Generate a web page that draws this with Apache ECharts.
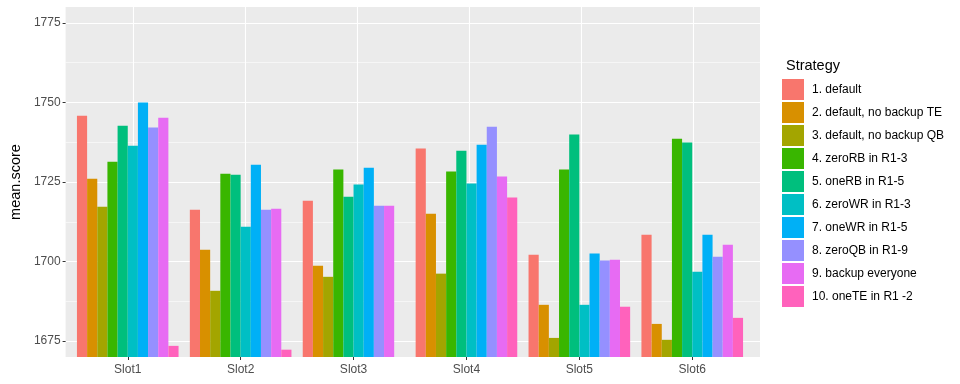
<!DOCTYPE html>
<html>
<head>
<meta charset="utf-8">
<script src="https://cdn.jsdelivr.net/npm/echarts@6/dist/echarts.min.js"></script>
<style>html,body{margin:0;padding:0;background:#fff}#c{width:960px;height:384px}</style>
</head>
<body>
<div id="c"></div>
<script>
const categories = ['Slot1','Slot2','Slot3','Slot4','Slot5','Slot6'];
const strategies = ['1. default','2. default, no backup TE','3. default, no backup QB','4. zeroRB in R1-3','5. oneRB in R1-5','6. zeroWR in R1-3','7. oneWR in R1-5','8. zeroQB in R1-9','9. backup everyone','10. oneTE in R1 -2'];
const colors = ['#F8766D','#D89000','#A3A500','#39B600','#00BF7D','#00BFC4','#00B0F6','#9590FF','#E76BF3','#FF62BC'];
const s1 = [1745.8, 1716.3, 1719.1, 1735.5, 1702.1, 1708.4];
const s2 = [1726.0, 1703.7, 1698.7, 1715.0, 1686.4, 1680.4];
const s3 = [1717.2, 1690.8, 1695.2, 1696.2, 1676.0, 1675.4];
const s4 = [1731.4, 1727.6, 1728.9, 1728.3, 1728.9, 1738.6];
const s5 = [1742.7, 1727.3, 1720.4, 1734.8, 1739.9, 1737.4];
const s6 = [1736.4, 1710.9, 1724.2, 1724.5, 1686.4, 1696.8];
const s7 = [1750.0, 1730.4, 1729.5, 1736.7, 1702.5, 1708.4];
const s8 = [1742.1, 1716.3, 1717.5, 1742.4, 1700.3, 1701.5];
const s9 = [1745.2, 1716.6, 1717.5, 1726.7, 1700.6, 1705.3];
const s10 = [1673.5, 1672.3, null, 1720.1, 1685.8, 1682.3];
const seriesValues = [s1,s2,s3,s4,s5,s6,s7,s8,s9,s10];
const yTicks = [1675, 1700, 1725, 1750, 1775];
const yMinorTicks = [1687.5, 1712.5, 1737.5, 1762.5];
const xPositions = [1, 2, 3, 4, 5, 6];

const chart = echarts.init(document.getElementById('c'), null, {renderer:'canvas'});
const FONT = 'Liberation Sans, Arial, sans-serif';
const option = {
  animation: false,
  textStyle: {fontFamily: FONT},
  title: {text: 'Strategy', left: 781, top: 53, textStyle: {fontFamily: FONT, fontSize: 14.5, fontWeight: 'normal', color: '#000'}},
  legend: {
    orient: 'vertical', left: 782, top: 79, itemWidth: 22, itemHeight: 21, itemGap: 2, padding: 0,
    icon: 'rect', data: strategies,
    textStyle: {fontFamily: FONT, fontSize: 12, color: '#000', padding: [0,0,0,3]}
  },
  grid: [
    {left: 60, right: 200, top: 7, bottom: 27, show: true, backgroundColor: '#EBEBEB', borderWidth: 0},
    {left: 71.3, right: 211.3, top: 7, bottom: 27}
  ],
  xAxis: [
    {gridIndex: 0, type: 'value', min: 0.4, max: 6.6,
     axisLine: {show: false}, axisLabel: {show: false, customValues: xPositions},
     axisTick: {show: true, length: 0, customValues: xPositions, lineStyle: {color: 'rgba(0,0,0,0)'}},
     splitLine: {show: true, lineStyle: {color: '#fff', width: 1.1}}},
    {gridIndex: 1, type: 'category', data: categories, boundaryGap: true,
     axisLine: {show: false},
     axisTick: {show: true, alignWithLabel: true, length: 3, lineStyle: {color: '#333', width: 1}},
     axisLabel: {color: '#4D4D4D', fontSize: 12, margin: 7, fontFamily: FONT},
     splitLine: {show: false}}
  ],
  yAxis: [
    {gridIndex: 0, type: 'value', min: 1670, max: 1780,
     axisLine: {show: false},
     axisTick: {show: true, length: 3, customValues: yTicks, lineStyle: {color: '#333'}},
     axisLabel: {color: '#4D4D4D', fontSize: 12, margin: 5, customValues: yTicks, fontFamily: FONT,
                 formatter: v => String(v)},
     splitLine: {show: true, lineStyle: {color: '#fff', width: 1.1}},
     name: 'mean.score', nameLocation: 'middle', nameGap: 38, nameRotate: 90,
     nameTextStyle: {color: '#000', fontSize: 14.5, fontFamily: FONT}},
    {gridIndex: 0, type: 'value', min: 1670, max: 1780,
     axisLine: {show: false},
     axisTick: {show: true, length: 0, customValues: yMinorTicks, lineStyle: {color: 'rgba(0,0,0,0)'}},
     axisLabel: {show: false, customValues: yMinorTicks},
     splitLine: {show: true, lineStyle: {color: '#fff', width: 0.55}}},
    {gridIndex: 1, type: 'value', min: 1670, max: 1780, show: false, splitLine: {show: false}}
  ],
  series: strategies.map((name, i) => ({
    name: name, type: 'bar', xAxisIndex: 1, yAxisIndex: 2,
    data: seriesValues[i], barWidth: '9%', barGap: '0%',
    itemStyle: {color: colors[i]}
  }))
};
chart.setOption(option);
</script>
</body>
</html>
